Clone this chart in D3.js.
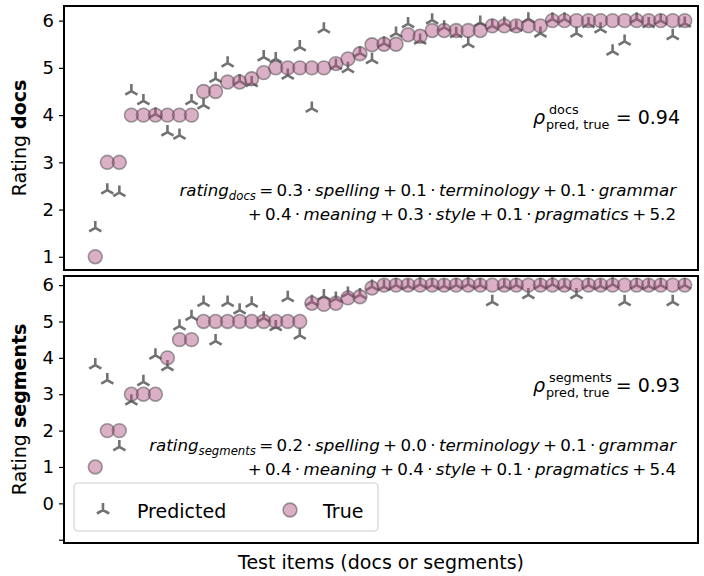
<!DOCTYPE html>
<html lang="en">
<head>
<meta charset="UTF-8">
<title>Predicted vs true ratings</title>
<script src="https://cdn.jsdelivr.net/npm/d3@7"></script>
<style>
  body { margin: 0; background: #fff; }
  svg { font-family: "DejaVu Sans", sans-serif; }
</style>
</head>
<body>
<div id="chart"></div>
<script>

// true and predicted ratings, docs panel
var docsTrue = [1, 3, 3, 4, 4, 4, 4, 4, 4, 4.5, 4.5, 4.7, 4.7, 4.77, 4.9,
  5, 5, 5, 5, 5, 5.09, 5.19, 5.3, 5.49, 5.5, 5.5, 5.7, 5.67,
  5.79, 5.79, 5.79, 5.79, 5.79, 5.89, 5.89, 5.89, 5.89, 5.89,
  6, 6, 6, 6, 6, 6, 6, 6, 6, 6, 6, 6];
var docsPred = [1.61, 2.41, 2.36, 4.51, 4.3, 4.02, 3.64, 3.57, 4.3, 4.21, 4.77, 5.1, 4.72, 4.68, 5.23,
  5.19, 4.84, 5.44, 4.14, 5.82, 5.05, 4.98, 5.31, 5.17, 5.52, 5.73, 5.93, 5.58,
  6.01, 5.86, 5.72, 5.51, 5.96, 5.89, 5.94, 5.86, 6.03, 5.73,
  6.03, 6.03, 5.73, 5.93, 5.82, 5.35, 5.56, 6.03, 5.93, 6.0, 5.68, 5.94];

// true and predicted ratings, segments panel
var segTrue = [1, 2, 2, 3, 3, 3, 4, 4.5, 4.5, 5, 5, 5, 5, 5, 5, 5, 5, 5,
  5.5, 5.47, 5.5, 5.65, 5.68, 5.92,
  6, 6, 6, 6, 6, 6, 6, 6, 6, 6, 6, 6, 6, 6, 6, 6, 6, 6, 6, 6, 6, 6, 6, 6, 6, 6];
var segPred = [3.8, 3.39, 1.55, 2.81, 3.34, 4.07, 3.75, 4.87, 5.13, 5.52, 4.46, 5.52, 5.31, 5.5, 5.09, 4.85, 5.65, 4.62,
  5.54, 5.7, 5.63, 5.77, 5.73, 5.96,
  5.96, 6.0, 5.98, 6.02, 6.0, 5.98, 6.0, 6.02, 6.0, 5.54, 5.98, 6.0, 5.73, 6.0, 6.02, 5.98,
  5.73, 6.0, 5.98, 6.02, 5.54, 6.0, 5.98, 6.0, 5.54, 6.0];

var docsTicks = [1, 2, 3, 4, 5, 6];
var segTicks = [-1, 0, 1, 2, 3, 4, 5, 6];

var W = 704, H = 576;
var left = 64, right = 698;

var svg = d3.select("#chart").append("svg")
  .attr("width", W).attr("height", H);

var x = d3.scaleLinear().domain([-2.6, 50.1]).range([left, right]);

// tri_up marker path
var s = 7;
var triPath = "M0,0L0," + (-s) + "M0,0L" + (s * 0.866) + "," + (s * 0.5) + "M0,0L" + (-s * 0.866) + "," + (s * 0.5);

var triColor = "#727272";
var dotFill = "rgba(178,84,132,0.47)";
var dotStroke = "rgba(70,70,70,0.5)";

var th = "\u2009"; // thin space, like mathtext operator spacing

function mathText(g, parts, size, xEnd, yBase) {
  // parts: [text, italic, sub]
  var t = g.append("text")
    .attr("x", xEnd).attr("y", yBase)
    .attr("text-anchor", "end")
    .attr("font-size", size);
  var prevSub = false;
  parts.forEach(function(p) {
    var ts = t.append("tspan").text(p[0]);
    if (p[1]) ts.attr("font-style", "italic");
    if (p[2] && !prevSub) ts.attr("dy", size * 0.25).attr("font-size", size * 0.7);
    else if (p[2]) ts.attr("font-size", size * 0.7);
    if (!p[2] && prevSub) ts.attr("dy", -size * 0.25);
    prevSub = !!p[2];
  });
  return t;
}

function op(o, c) { return th + o + th + c + th + "·" + th; }

function panel(cfg) {
  var y = d3.scaleLinear().domain(cfg.domain).range([cfg.bottom, cfg.top]);
  var g = svg.append("g");

  // predicted first, then true circles on top
  g.selectAll("path.pred")
    .data(cfg.pred)
    .enter().append("path")
    .attr("class", "pred")
    .attr("d", triPath)
    .attr("transform", function(d, i) { return "translate(" + x(i) + "," + y(d) + ")"; })
    .attr("fill", "none")
    .attr("stroke", triColor)
    .attr("stroke-width", 2.6);

  g.selectAll("circle.true")
    .data(cfg.truth)
    .enter().append("circle")
    .attr("class", "true")
    .attr("cx", function(d, i) { return x(i); })
    .attr("cy", function(d) { return y(d); })
    .attr("r", 6.9)
    .attr("fill", dotFill)
    .attr("stroke", dotStroke)
    .attr("stroke-width", 1.6);

  // y axis
  var ax = g.append("g")
    .attr("transform", "translate(" + left + ",0)")
    .call(d3.axisLeft(y).tickValues(cfg.ticks).tickSize(5).tickPadding(5)
      .tickFormat(function(d) { return cfg.labelled.indexOf(d) >= 0 ? d : ""; }));
  ax.select(".domain").remove();
  ax.selectAll("line").attr("stroke", "#000").attr("stroke-width", 1.2);
  ax.selectAll("text").attr("font-size", 18).attr("font-family", "DejaVu Sans").attr("fill", "#000");

  // frame
  g.append("rect")
    .attr("x", left).attr("y", cfg.top)
    .attr("width", right - left).attr("height", cfg.bottom - cfg.top)
    .attr("fill", "none").attr("stroke", "#000").attr("stroke-width", 2);

  // y label
  var lab = g.append("text")
    .attr("transform", "translate(26," + ((cfg.top + cfg.bottom) / 2) + ") rotate(-90)")
    .attr("text-anchor", "middle")
    .attr("font-size", 19);
  lab.append("tspan").text("Rating ");
  lab.append("tspan").attr("font-weight", "bold").text(cfg.name);

  // correlation text
  var rx = 680, ry = cfg.rhoY, sx = 545;
  g.append("text").attr("x", rx).attr("y", ry).attr("text-anchor", "end")
    .attr("font-size", 19).text("= " + cfg.rho);
  g.append("text").attr("x", sx + 1).attr("y", ry + 5)
    .attr("font-size", 12.8).text("pred, true");
  g.append("text").attr("x", sx + 4).attr("y", ry - 10)
    .attr("font-size", 12.8).text(cfg.name);
  g.append("text").attr("x", sx).attr("y", ry).attr("text-anchor", "end")
    .attr("font-size", 19).attr("font-style", "italic").text("ρ");

  // regression formula
  var c = cfg.coef;
  mathText(g, [["rating", true], [cfg.name, true, true], [th + "=" + th + c[0] + th + "·" + th], ["spelling", true],
    [op("+", c[1])], ["terminology", true], [op("+", c[2])], ["grammar", true]],
    16.7, 676, cfg.eqY);
  mathText(g, [["+" + th + c[3] + th + "·" + th], ["meaning", true], [op("+", c[4])], ["style", true],
    [op("+", c[5])], ["pragmatics", true], [th + "+" + th + c[6]]],
    16.7, 676, cfg.eqY + 24);
  return g;
}

panel({
  name: "docs", truth: docsTrue, pred: docsPred,
  domain: [0.72, 6.31], top: 6, bottom: 270,
  ticks: docsTicks, labelled: docsTicks,
  rho: "0.94", rhoY: 124,
  coef: ["0.3", "0.1", "0.1", "0.4", "0.3", "0.1", "5.2"], eqY: 196
});

panel({
  name: "segments", truth: segTrue, pred: segPred,
  domain: [-1.09, 6.25], top: 276, bottom: 543,
  ticks: segTicks, labelled: [0, 1, 2, 3, 4, 5, 6],
  rho: "0.93", rhoY: 392,
  coef: ["0.2", "0.0", "0.1", "0.4", "0.4", "0.1", "5.4"], eqY: 451
});

// legend
var lg = svg.append("g");
lg.append("rect")
  .attr("x", 74).attr("y", 483).attr("width", 304).attr("height", 48)
  .attr("rx", 4).attr("fill", "rgba(255,255,255,0.8)")
  .attr("stroke", "#d0d0d0").attr("stroke-width", 1.2);
lg.append("path").attr("d", triPath)
  .attr("transform", "translate(103,510)")
  .attr("fill", "none").attr("stroke", triColor).attr("stroke-width", 2.6);
lg.append("text").attr("x", 137).attr("y", 518).attr("font-size", 19).text("Predicted");
lg.append("circle").attr("cx", 290).attr("cy", 510).attr("r", 6.9)
  .attr("fill", dotFill).attr("stroke", dotStroke).attr("stroke-width", 1.6);
lg.append("text").attr("x", 323).attr("y", 518).attr("font-size", 19).text("True");

// x label
svg.append("text")
  .attr("x", (left + right) / 2).attr("y", 569)
  .attr("text-anchor", "middle").attr("font-size", 19)
  .text("Test items (docs or segments)");

</script>
</body>
</html>
